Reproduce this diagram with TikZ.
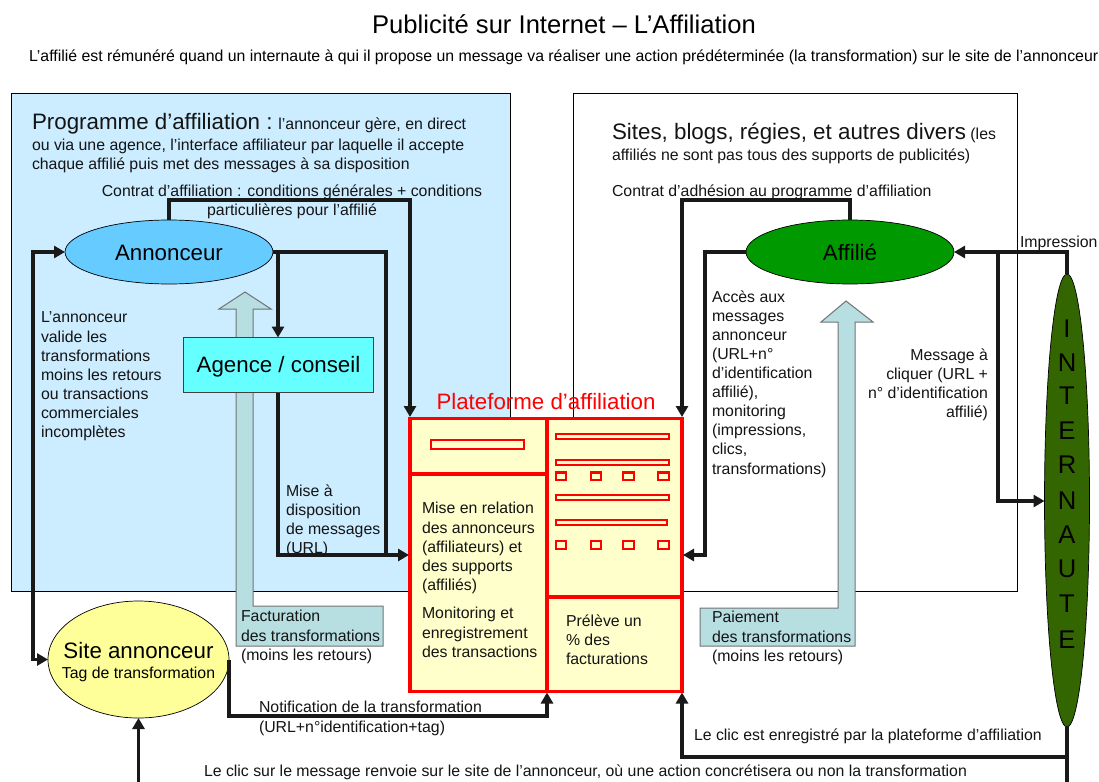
\documentclass[tikz,border=0pt]{standalone}
\usepackage{fontspec}
\setmainfont{Liberation Sans}
\usetikzlibrary{arrows.meta,shapes.geometric,calc}
\definecolor{panelblue}{HTML}{CCECFF}
\definecolor{annfill}{HTML}{66CCFF}
\definecolor{agfill}{HTML}{66FFFF}
\definecolor{affill}{HTML}{009900}
\definecolor{intfill}{HTML}{336600}
\definecolor{sitefill}{HTML}{FFFF99}
\definecolor{platfill}{HTML}{FFFFCC}
\definecolor{bigarrow}{HTML}{B7DEE1}
\definecolor{platred}{HTML}{FF0000}
\tikzset{
  every node/.style={inner sep=0pt,outer sep=0pt},
  body/.style={font=\fontsize{15.85}{19.1}\selectfont,anchor=north west,align=left,text=black!92},
  bigt/.style={font=\fontsize{22.3}{24}\selectfont},
  oval/.style={ellipse,draw=black,line width=0.7pt,font=\fontsize{22.3}{24}\selectfont},
  conn/.style={line width=3.05pt,black!90,line join=miter},
  arr/.style={conn,-{Triangle[length=11pt,width=12pt]}},
  fat/.style={draw=black!55,line width=1pt,fill=bigarrow,line join=miter},
  redbox/.style={draw=platred,line width=3.05pt,fill=platfill},
}
\newcommand{\bodysm}{\fontsize{15.85}{19}\selectfont}
\begin{document}
\begin{tikzpicture}[x=1pt,y=-1pt]
\useasboundingbox (0,0) rectangle (1099,781);
\fill[white] (0,0) rectangle (1099,781);
% panels
\draw[fill=panelblue,line width=0.9pt] (11,93) rectangle (510,591);
\draw[line width=0.9pt] (573,93) rectangle (1017,591);
% titles
\node[font=\fontsize{25.6}{28}\selectfont] (title) at (564,24) {Publicité sur Internet – L’Affiliation};
\node[font=\fontsize{15.85}{16}\selectfont,anchor=west] (subtitle) at (29,57) {L’affilié est rémunéré quand un internaute à qui il propose un message va réaliser une action prédéterminée (la transformation) sur le site de l’annonceur};
% panel text
\node[body] (prog) at (32,113) {{\fontsize{22.35}{24}\selectfont Programme d’affiliation :} l’annonceur gère, en direct\\[2pt]ou via une agence, l’interface affiliateur par laquelle il accepte\\chaque affilié puis met des messages à sa disposition};
\node[body] (sites) at (612,123) {{\fontsize{22.35}{24}\selectfont Sites, blogs, régies, et autres divers} (les\\[2pt]affiliés ne sont pas tous des supports de publicités)};
% big arrows
\draw[fat] (236,309) -- (219,309) -- (245,292) -- (271,309) -- (253,309) -- (253,606) -- (383,606) -- (383,646) -- (236,646) -- cycle;
\draw[fat] (838,322) -- (821,322) -- (846,301) -- (873,322) -- (855,322) -- (855,646) -- (700,646) -- (700,608) -- (838,608) -- cycle;
% nodes
\node[oval,fill=annfill,minimum width=208pt,minimum height=64pt] (ann) at (169,252) {\raisebox{-8pt}[0pt][0pt]{Annonceur}};
\node[draw=black!75,line width=0.7pt,fill=agfill,minimum width=190pt,minimum height=55pt,font=\fontsize{22.3}{24}\selectfont] (agence) at (278.5,365) {\raisebox{-7.5pt}[0pt][0pt]{Agence / conseil}};
\node[oval,fill=affill,minimum width=208pt,minimum height=64pt] (aff) at (850,252) {\raisebox{-8pt}[0pt][0pt]{Affilié}};
\node[oval,fill=sitefill,minimum width=181pt,minimum height=117pt,align=center] (site) at (138.5,659.5) {};
\node[font=\fontsize{22.3}{24}\selectfont] (sitea) at (138.5,651) {Site annonceur};
\node[font=\bodysm] (sitet) at (138.5,674) {Tag de transformation};
\node[ellipse,draw=black,line width=0.7pt,fill=intfill,minimum width=45pt,minimum height=453pt] (int) at (1067,500.5) {};
\foreach \l/\y [count=\i] in {I/329,N/363,T/396,E/431,R/465,N/501,A/535,U/569,T/604,E/640}
  \node[font=\fontsize{25.6}{28}\selectfont] (int\i) at (1067,\y) {\l};
% platform
\node[redbox,minimum width=137pt,minimum height=273pt,anchor=north west] (pl) at (410,418.5) {};
\node[redbox,minimum width=135pt,minimum height=273pt,anchor=north west] (pr) at (547,418.5) {};
\coordinate (pltop) at (410,417);
\coordinate (prtop) at (682,417);
\coordinate (plmid) at (409,555);
\coordinate (prmid) at (683,555);
\coordinate (pdiv) at (547,692.5);
\coordinate (prbot) at (682,692.5);
\draw[platred,line width=3.05pt] (410,474) -- (547,474) (547,597) -- (682,597);
\foreach \a/\b/\c/\d in {431/440/524/449,556/434/669/439,556/460/669/465,556/495/669/500,556/520/667/525,
  556/472.5/566/480,591/472.5/601/480,623/472.5/634/480,658/472.5/669/480,
  556/541/566/549,591/541/601/549,623/541/634/549,658/541/669/549}
  \draw[platred,line width=2.05pt,fill=platfill] (\a,\b) rectangle (\c,\d);
\node[bigt,text=platred] (pltitle) at (546,402) {Plateforme d’affiliation};
% free coordinates
\coordinate (j1) at (278,252);
\coordinate (j2) at (278,555);
\coordinate (j3) at (386,555);
\coordinate (lft) at (33,252);
\coordinate (j4) at (998,252);
\coordinate (below) at (1067,785);
\coordinate (j5) at (1067,757);
\coordinate (bl) at (138.5,785);
% connectors
\draw[arr] (ann.north) -- ++(0,-20) -| (pltop);
\draw[arr] (aff.north) -- ++(0,-20) -| (prtop);
\draw[conn] (ann.east) -- (386,252) -- (j3);
\draw[arr] (j1) -- (agence.north -| j1);
\draw[conn] (agence.south -| j1) -- (j2) -- (j3);
\draw[arr] (j3) -- (plmid);
\draw[arr,{Triangle[length=11pt,width=12pt]}-{Triangle[length=11pt,width=12pt]}] (ann.west) -- (lft) -- (33,659.5) -- (site.west);
\draw[arr] (aff.west) -- (705,252) -- (705,555) -- (prmid);
\draw[arr] (int.north) -- (1067,252) -- (aff.east);
\draw[arr] (j4) -- (998,501) -- (1044.5,501);
\draw[arr] (site.east) -- (229,716) -| (pdiv);
\draw[conn] (int.south) -- (below);
\draw[arr] (j5) -| (prbot);
\draw[arr] (bl) -- (site.south);
% labels
\node[body,align=center,anchor=north] (contrat) at (292,184.5) {Contrat d’affiliation : conditions générales + conditions\\particulières pour l’affilié};
\node[body] (adh) at (612,184.5) {Contrat d’adhésion au programme d’affiliation};
\node[body] (valide) at (41,312) {L’annonceur\\valide les\\transformations\\moins les retours\\ou transactions\\commerciales\\incomplètes};
\node[body] (mise) at (286,484.5) {Mise à\\disposition\\de messages\\(URL)};
\node[body] (fact) at (241,610.5) {Facturation\\des transformations\\(moins les retours)};
\node[body] (paie) at (712,611.5) {Paiement\\des transformations\\(moins les retours)};
\node[body] (acces) at (712,290.5) {Accès aux\\messages\\annonceur\\(URL+n°\\d’identification\\affilié),\\monitoring\\(impressions,\\clics,\\transformations)};
\node[body,align=right,anchor=north east] (msg) at (988,348.5) {Message à\\cliquer (URL +\\n° d’identification\\affilié)};
\node[body] (imp) at (1020,236.5) {Impression};
\node[body] (rel) at (422,502.5) {Mise en relation\\des annonceurs\\(affiliateurs) et\\des supports\\(affiliés)};
\node[body] (moni) at (422,607.5) {Monitoring et\\enregistrement\\des transactions};
\node[body] (prel) at (566,614.5) {Prélève un\\\% des\\facturations};
\node[body] (notif) at (259,701.5) {Notification de la transformation\\(URL+n°identification+tag)};
\node[body] (clicp) at (694,728.5) {Le clic est enregistré par la plateforme d’affiliation};
\node[body] (clics) at (204,764.5) {Le clic sur le message renvoie sur le site de l’annonceur, où une action concrétisera ou non la transformation};
\end{tikzpicture}
\end{document}
